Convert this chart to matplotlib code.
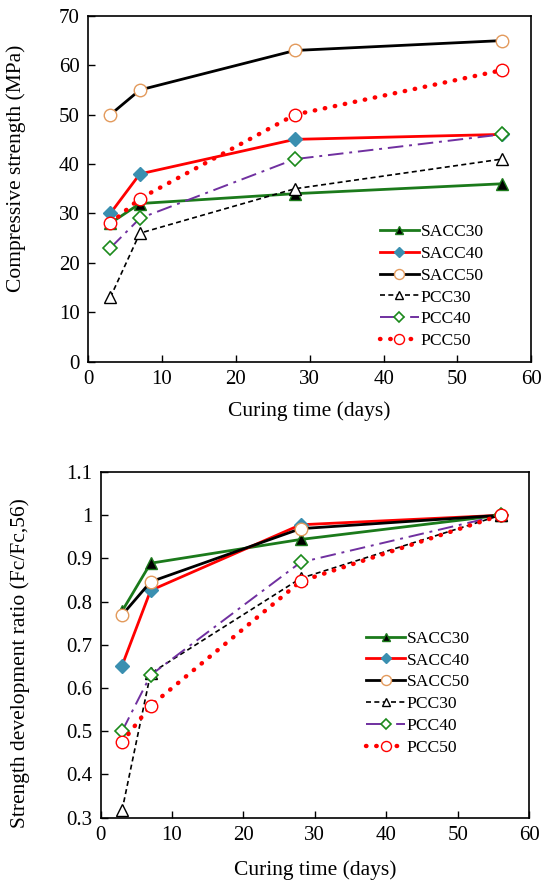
import matplotlib
matplotlib.use("Agg")
import matplotlib.pyplot as plt

plt.rcParams['font.family'] = ['Liberation Serif', 'DejaVu Serif']

days = [3, 7, 28, 56]

# compressive strength (MPa)
sacc30 = [28, 32, 34, 36]
sacc40 = [30, 38, 45, 46]
sacc50 = [50, 55, 63, 65]
pcc30 = [13, 26, 35, 41]
pcc40 = [23, 29, 41, 46]
pcc50 = [28, 33, 50, 59]

# strength development ratio (Fc/Fc,56)
r_sacc30 = [0.778, 0.889, 0.944, 1.0]
r_sacc40 = [0.652, 0.826, 0.978, 1.0]
r_sacc50 = [0.769, 0.846, 0.969, 1.0]
r_pcc30 = [0.317, 0.634, 0.854, 1.0]
r_pcc40 = [0.500, 0.630, 0.891, 1.0]
r_pcc50 = [0.475, 0.559, 0.847, 1.0]

labels = ["SACC30", "SACC40", "SACC50", "PCC30", "PCC40", "PCC50"]

styles = [
    dict(color='#1b7a1b', ls='-', lw=2, marker='^', ms=8, mfc='black', mec='#1b7a1b'),
    dict(color='red', ls='-', lw=2, marker='D', ms=7, mfc='#3a8fb0', mec='#3a8fb0'),
    dict(color='black', ls='-', lw=2, marker='o', ms=9, mfc='white', mec='#e39a5c'),
    dict(color='black', ls=(0, (3, 2)), lw=1.2, marker='^', ms=8, mfc='white', mec='black'),
    dict(color='#7030a0', ls=(0, (8, 3, 1.5, 3)), lw=1.4, marker='D', ms=7, mfc='white', mec='#1b8a1b', mew=1.2),
    dict(color='red', ls=(0, (0.1, 2.2)), lw=3.2, dash_capstyle='round', marker='o', ms=9, mfc='white', mec='red', mew=1.0),
]

fig = plt.figure(figsize=(5.41, 8.84), dpi=100)

ax1 = fig.add_axes([0.163, 0.591, 0.819, 0.391])
ax2 = fig.add_axes([0.186, 0.075, 0.792, 0.391])

for data, lab, st in zip([sacc30, sacc40, sacc50, pcc30, pcc40, pcc50], labels, styles):
    ax1.plot(days, data, label=lab, **st)

for data, lab, st in zip([r_sacc30, r_sacc40, r_sacc50, r_pcc30, r_pcc40, r_pcc50], labels, styles):
    ax2.plot(days, data, label=lab, **st)

ax1.set_xlim(0, 60)
ax1.set_ylim(0, 70)
ax1.set_yticks(range(0, 71, 10))
ax1.set_ylabel("Compressive strength (MPa)", fontsize=15.5)
ax1.set_xlabel("Curing time (days)", fontsize=15.5, labelpad=9)
ax1.yaxis.set_label_coords(-0.14, 0.56)

ax2.set_xlim(0, 60)
ax2.set_ylim(0.3, 1.1)
ax2.set_yticks([0.3, 0.4, 0.5, 0.6, 0.7, 0.8, 0.9, 1.0, 1.1])
ax2.set_yticklabels(["0.3", "0.4", "0.5", "0.6", "0.7", "0.8", "0.9", "1", "1.1"])
ax2.set_ylabel("Strength development ratio (Fc/Fc,56)", fontsize=15.5)
ax2.set_xlabel("Curing time (days)", fontsize=15.5, labelpad=11)
ax2.yaxis.set_label_coords(-0.165, 0.446)

for ax in (ax1, ax2):
    ax.set_xticks(range(0, 61, 10))
    ax.tick_params(direction='in', length=5, labelsize=15, width=1, pad=6)
    for s in ax.spines.values():
        s.set_linewidth(1.2)

ax1.legend(loc='lower right', bbox_to_anchor=(0.92, 0.0), frameon=False, fontsize=12.6,
           handlelength=2.2, handletextpad=0.1, labelspacing=0.32, borderaxespad=0.3,
           markerscale=0.8)
ax2.legend(loc='center right', bbox_to_anchor=(0.89, 0.36), frameon=False, fontsize=12.6,
           handlelength=2.2, handletextpad=0.1, labelspacing=0.32, borderaxespad=0.3,
           markerscale=0.8)

fig.savefig("out.png", dpi=100)
